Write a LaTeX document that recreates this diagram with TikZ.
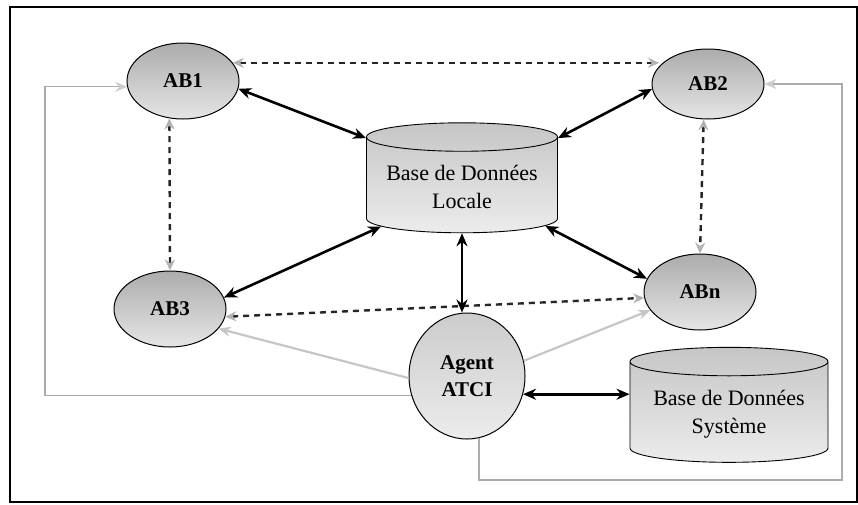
\documentclass[tikz,border=0pt]{standalone}
\usepackage{fontspec}
\setmainfont{Liberation Serif}
\usetikzlibrary{arrows.meta,shapes.geometric}

\tikzset{
  agent/.style={ellipse, draw=black, line width=1pt, top color=gray!65, bottom color=gray!20,
    minimum width=112pt, minimum height=76pt, align=center, font=\fontsize{21}{27}\selectfont\bfseries},
  base/.style={cylinder, shape border rotate=90, aspect=0.18, draw=black, line width=0.9pt,
    top color=gray!45, bottom color=gray!15, align=center, font=\fontsize{22}{28}\selectfont},
  lien/.style={black, line width=2.6pt, {Stealth[length=13pt,width=11pt]}-{Stealth[length=13pt,width=11pt]}},
  pointille/.style={gray!30!black, line width=2.4pt, dash pattern=on 6pt off 5pt,
    {Stealth[length=11pt,width=10pt,color=gray!60]}-{Stealth[length=11pt,width=10pt,color=gray!60]}},
  retour/.style={gray!45, line width=2.2pt, -{Stealth[length=12pt,width=10pt]}},
  boucle/.style={gray!65, line width=1.2pt, -{Stealth[length=12pt,width=10pt,color=gray!40]}}
}

\begin{document}
\begin{tikzpicture}[x=1pt,y=-1pt]
\useasboundingbox (0,0) rectangle (858,504);
% Cadre
\draw[line width=1.8pt] (10,7) rectangle (857,502);

% Agents
\node[agent] (ab1) at (183,81) {AB1};
\node[agent, minimum height=70pt] (ab2) at (708,84) {AB2};
\node[agent] (ab3) at (170,309) {AB3};
\node[agent] (abn) at (700,292) {ABn};
\node[agent, minimum width=116pt, minimum height=126pt, top color=gray!40, bottom color=gray!15] (atci) at (467,376) {Agent\\ATCI};

% Bases de donnees
\node[base, minimum width=191pt, minimum height=110pt] (dbl) at (462,187) {Base de Données\\Locale};
\node[base, minimum width=198pt, minimum height=115pt] (dbs) at (729,414) {Base de Données\\Système};

% Liens pointilles
\draw[pointille] (ab1.20) -- (ab1.20 -| ab2.160);
\draw[pointille] (ab1.-110) -- (ab3.north);
\draw[pointille] (ab2.-97) -- (abn.north);
\draw[pointille] (ab3.-8) -- (abn.186);

% Liens avec les bases
\draw[lien] (ab1.-8) -- (dbl.153);
\draw[lien] (ab2.185) -- (dbl.27);
\draw[lien] (ab3.12) -- (dbl.206);
\draw[lien] (abn.166) -- (dbl.-25);
\draw[lien] (dbl.south) -- (dbl.south |- atci.north);
\draw[lien] (atci.-18) -- (atci.-18 -| dbs.west);

% Retours de l'agent ATCI
\draw[retour] (atci.182) -- (ab3.-22);
\draw[retour] (atci.15) -- (abn.200);
\coordinate (railg) at (45,240);
\coordinate (raild) at (842,480);
\draw[boucle] (atci.199) -| (railg |- ab1.186) -- (ab1.186);
\draw[boucle] (atci.-79) |- (raild) |- (ab2.east);
\end{tikzpicture}
\end{document}
